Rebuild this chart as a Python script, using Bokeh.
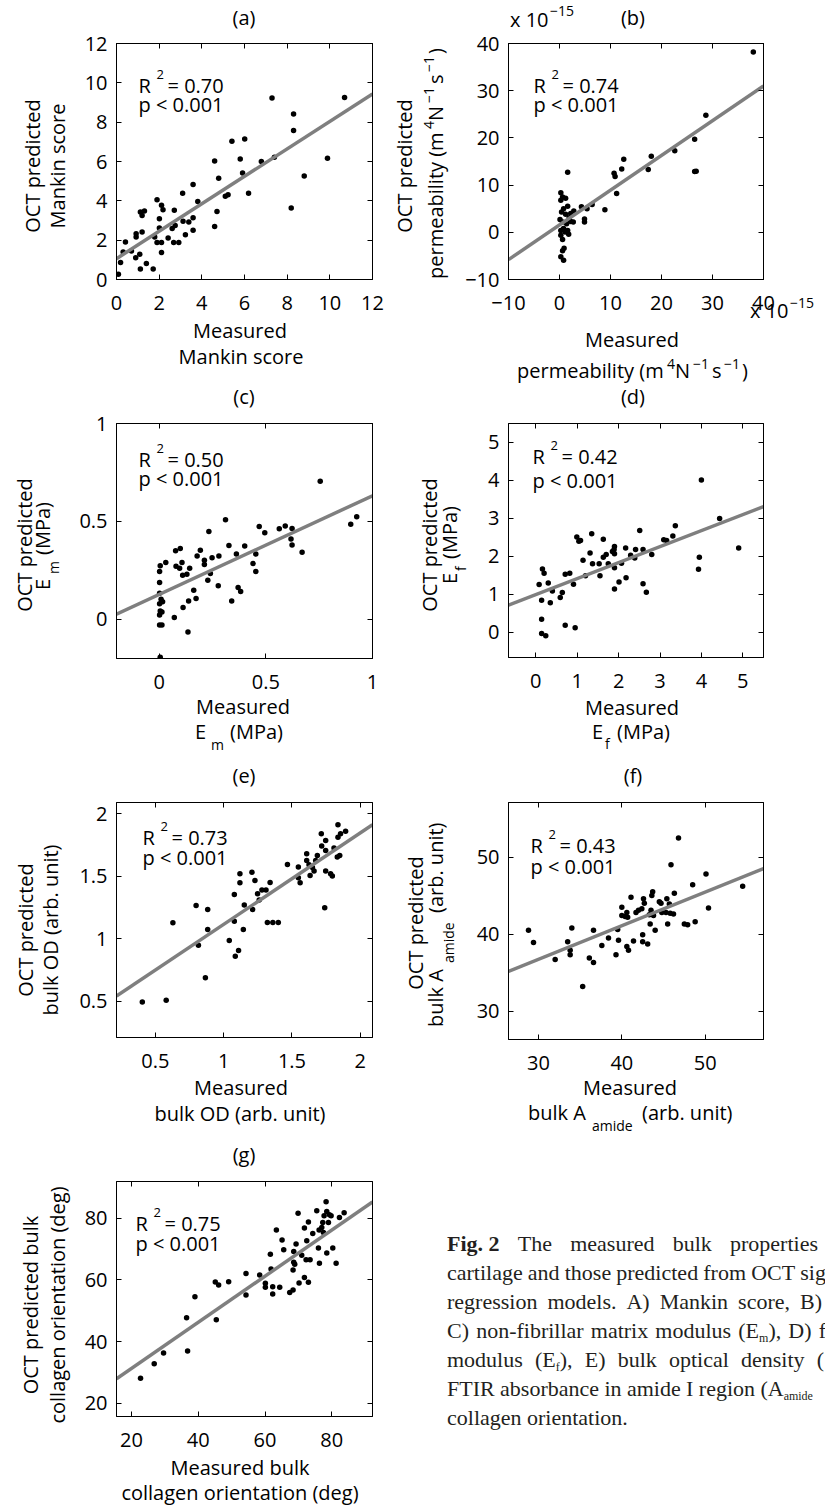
import math
from html import escape
from bokeh.plotting import figure
from bokeh.models import Label, LinearAxis, FixedTicker, Range1d, Div, CustomJSTickFormatter
from bokeh.layouts import column, row
from bokeh.embed import file_html
from bokeh.resources import INLINE

FONT = "Open Sans"
FS = 20
SUP = 13
SUP_OUT = 14

# ---------------- data ----------------
# (a) Mankin score
a_measured = [0.09, 0.19, 0.31, 0.42, 0.70, 0.92, 0.92, 0.90, 1.09, 1.12, 1.40, 1.72, 1.12, 1.31, 1.20,
              1.20, 1.90, 2.11, 2.18, 2.01, 2.01, 1.90, 2.11, 2.11, 1.79, 2.42, 2.61, 2.71, 2.75, 2.68,
              2.92, 3.10, 3.12, 3.23, 3.39, 3.59, 3.59, 3.59, 3.81, 4.60, 4.60, 4.71, 4.79, 5.10, 5.23,
              5.41, 5.80, 5.91, 6.01, 6.19, 6.79, 7.29, 7.40, 8.19, 8.30, 8.30, 8.80, 9.89, 10.69]
a_predicted = [0.27, 0.86, 1.40, 1.91, 1.45, 2.33, 2.16, 1.10, 1.28, 0.54, 0.81, 0.54, 3.43, 3.48, 3.26,
               2.42, 4.06, 3.77, 3.55, 3.09, 2.62, 1.88, 1.88, 1.37, 2.16, 2.11, 2.59, 3.52, 2.75, 1.88,
               1.88, 4.39, 2.96, 2.28, 2.92, 3.14, 2.50, 4.83, 3.97, 6.02, 2.70, 3.46, 5.15, 4.23, 4.31,
               7.03, 6.13, 5.42, 7.15, 4.39, 6.00, 9.23, 6.22, 3.63, 8.42, 7.57, 5.26, 6.17, 9.26]
a_fit_x = [0, 12]
a_fit_y = [1.06, 9.43]
a_xlim = [0, 12]
a_ylim = [0, 12]
a_ticks = [0, 2, 4, 6, 8, 10, 12]
a_tick_labels = ["0", "2", "4", "6", "8", "10", "12"]

# (b) permeability (x 1e-15)
b_measured = [38.0, 28.7, 26.5, 22.6, 18.0, 17.4, 26.5, 26.8, 12.6, 12.2, 10.7, 10.9, 11.2, 8.9, 6.4,
              5.4, 4.9, 4.9, 4.3, 2.8, 1.6, 0.26, 0.6, 1.2, 0.26, 0.8, 0.4, 1.6, 1.2, 1.9,
              0.1, 0.6, 1.4, 2.2, 0.8, 0.26, 1.1, 1.8, 0.26, 0.6, 0.9, 0.6, 0.26, 0.8, 2.2,
              1.6, 2.7]
b_predicted = [38.2, 24.8, 19.7, 17.3, 16.1, 13.3, 12.9, 12.95, 15.5, 13.4, 12.5, 11.8, 8.2, 4.8, 5.9,
               5.0, 2.8, 2.2, 5.4, 4.5, 12.7, 8.4, 7.5, 7.2, 6.8, 5.0, 4.3, 5.5, 3.8, 3.1,
               2.7, 2.2, 1.8, 2.3, 0.8, 0.4, 0.07, -0.4, -0.6, -1.5, -3.4, -3.9, -5.2, -5.9, 4.0,
               0.4, 2.2]
b_fit_x = [-10, 40]
b_fit_y = [-5.8, 31.0]
b_xlim = [-10, 40]
b_ylim = [-10, 40]
b_ticks = [-10, 0, 10, 20, 30, 40]
b_tick_labels = ["\u221210", "0", "10", "20", "30", "40"]

# (c) Em
c_measured = [0.755, 0.898, 0.926, 0.311, 0.233, 0.469, 0.495, 0.563, 0.591, 0.623, 0.618, 0.623, 0.670,
              0.327, 0.401, 0.362, 0.453, 0.440, 0.453, 0.280, 0.248, 0.212, 0.212, 0.193, 0.178, 0.099,
              0.077, 0.107, 0.079, 0.096, 0.031, 0.005, 0.002, 0.002, 0.002, 0.009, 0.016, 0.002, 0.005,
              0.013, 0.002, 0.002, 0.013, 0.005, 0.071, 0.112, 0.138, 0.135, 0.110, 0.143, 0.130, 0.162,
              0.173, 0.228, 0.240, 0.277, 0.340, 0.370, 0.382]
c_predicted = [0.705, 0.486, 0.524, 0.509, 0.449, 0.474, 0.442, 0.462, 0.476, 0.464, 0.410, 0.379, 0.343,
               0.377, 0.375, 0.333, 0.333, 0.285, 0.244, 0.323, 0.314, 0.302, 0.280, 0.353, 0.324, 0.362,
               0.350, 0.290, 0.271, 0.261, 0.290, 0.273, 0.244, 0.188, 0.133, 0.102, 0.090, 0.080, 0.043,
               0.038, 0.022, -0.029, -0.029, -0.193, 0.009, 0.060, 0.094, -0.065, 0.225, 0.261, 0.230, 0.148,
               0.106, 0.200, 0.234, 0.171, 0.094, 0.162, 0.142]
c_fit_x = [-0.2, 1.0]
c_fit_y = [0.026, 0.631]
c_xlim = [-0.2, 1.0]
c_ylim = [-0.2, 1.0]
c_ticks = [0, 0.5, 1]
c_tick_labels = ["0", "0.5", "1"]

# (d) Ef
d_measured = [4.00, 4.44, 4.90, 3.95, 3.93, 3.37, 3.31, 3.09, 3.16, 2.80, 2.51, 2.59, 2.41, 2.39, 2.29,
              2.17, 2.18, 2.01, 2.07, 1.90, 1.89, 1.90, 1.85, 1.75, 1.90, 1.90, 2.59, 2.67, 1.70, 1.63,
              1.63, 1.53, 1.55, 1.37, 1.35, 1.31, 1.20, 1.14, 0.99, 1.04, 1.08, 0.91, 0.82, 0.71, 0.64,
              0.59, 0.40, 0.30, 0.35, 0.08, 0.16, 0.20, 0.14, 0.14, 0.14, 0.24, 0.71, 0.95]
d_predicted = [4.01, 3.00, 2.22, 1.98, 1.66, 2.81, 2.54, 2.44, 2.42, 2.05, 2.68, 2.18, 2.18, 1.96, 2.03,
               2.22, 1.44, 1.33, 1.82, 2.26, 2.18, 2.07, 2.13, 1.81, 1.70, 1.14, 1.28, 1.06, 2.05, 1.98,
               2.45, 1.81, 1.49, 1.81, 2.60, 2.09, 1.49, 1.90, 2.51, 2.40, 2.42, 1.27, 1.56, 1.53, 1.05,
               0.92, 1.09, 1.30, 0.78, 1.26, 1.67, 1.56, 0.85, 0.35, -0.03, -0.09, 0.19, 0.12]
d_fit_x = [-0.66, 5.5]
d_fit_y = [0.72, 3.31]
d_xlim = [-0.66, 5.5]
d_ylim = [-0.66, 5.5]
d_ticks = [0, 1, 2, 3, 4, 5]
d_tick_labels = ["0", "1", "2", "3", "4", "5"]

# (e) bulk OD
e_measured = [0.404, 0.579, 0.628, 0.798, 0.815, 0.883, 0.883, 0.866, 1.041, 1.078, 1.085, 1.109, 1.119,
              1.119, 1.078, 1.151, 1.144, 1.207, 1.229, 1.212, 1.248, 1.280, 1.310, 1.340, 1.320, 1.360,
              1.400, 1.260, 1.467, 1.547, 1.547, 1.560, 1.608, 1.608, 1.625, 1.633, 1.662, 1.650, 1.686,
              1.715, 1.718, 1.747, 1.747, 1.747, 1.740, 1.783, 1.796, 1.808, 1.837, 1.837, 1.832, 1.850,
              1.856, 1.893, 1.674]
e_predicted = [0.495, 0.508, 1.129, 1.267, 0.948, 1.235, 1.075, 0.689, 0.987, 1.355, 0.860, 0.907, 1.520,
               1.448, 1.140, 1.270, 1.075, 1.533, 1.467, 1.235, 1.360, 1.390, 1.390, 1.450, 1.130, 1.130,
               1.130, 1.310, 1.595, 1.574, 1.488, 1.448, 1.680, 1.627, 1.593, 1.507, 1.542, 1.570, 1.667,
               1.840, 1.742, 1.787, 1.707, 1.542, 1.249, 1.520, 1.502, 1.726, 1.912, 1.813, 1.654, 1.667,
               1.840, 1.861, 1.627]
e_fit_x = [0.215, 2.09]
e_fit_y = [0.541, 1.912]
e_xlim = [0.215, 2.09]
e_ylim = [0.21, 2.09]
e_ticks = [0.5, 1, 1.5, 2]
e_tick_labels = ["0.5", "1", "1.5", "2"]

# (f) bulk A_amide
f_measured = [28.8, 29.4, 32.0, 33.5, 33.8, 33.8, 34.0, 35.3, 36.1, 36.6, 36.6, 37.6, 38.4, 39.3, 39.6,
              39.5, 40.0, 40.0, 40.4, 40.6, 40.7, 40.6, 40.8, 41.1, 41.4, 41.7, 42.0, 42.4, 42.5, 42.5,
              42.6, 42.7, 43.1, 43.3, 43.4, 43.5, 43.6, 43.7, 43.8, 44.0, 44.5, 44.7, 44.8, 45.3, 45.4,
              45.5, 45.7, 45.8, 45.9, 46.2, 46.3, 46.8, 47.5, 47.9, 48.5, 48.8, 50.1, 50.4, 54.5]
f_predicted = [40.5, 38.9, 36.7, 39.0, 37.9, 37.3, 40.8, 33.2, 36.9, 36.3, 40.5, 38.5, 39.5, 37.3, 39.2,
               40.6, 43.5, 42.4, 42.3, 42.8, 42.2, 38.4, 37.9, 44.8, 39.1, 42.8, 43.1, 43.3, 39.9, 39.0,
               44.6, 44.0, 38.7, 42.5, 41.3, 43.1, 45.0, 45.5, 42.4, 40.5, 44.2, 44.0, 42.8, 42.8, 44.6,
               41.3, 43.9, 42.7, 49.0, 42.6, 45.3, 52.5, 41.3, 41.2, 46.4, 41.6, 47.8, 43.4, 46.2]
f_fit_x = [26.4, 57.0]
f_fit_y = [35.15, 48.5]
f_xlim = [26.4, 57.0]
f_ylim = [26.3, 57.1]
f_ticks = [30, 40, 50]
f_tick_labels = ["30", "40", "50"]

# (g) bulk collagen orientation
g_measured = [22.7, 26.8, 29.6, 36.8, 36.5, 39.0, 45.4, 45.1, 46.1, 49.1, 54.3, 54.3, 58.4, 60.1, 60.1,
              61.6, 61.8, 62.3, 62.3, 64.4, 63.4, 65.1, 65.6, 67.4, 68.4, 68.4, 68.6, 68.6, 68.9, 69.3,
              69.9, 70.2, 71.0, 71.8, 71.8, 72.3, 72.5, 73.0, 73.0, 73.5, 74.3, 75.5, 76.0, 76.2, 76.3,
              77.0, 77.3, 77.7, 78.3, 78.5, 78.5, 79.0, 79.3, 79.8, 80.3, 81.3, 82.3, 83.7, 77.5]
g_predicted = [28.1, 32.8, 36.3, 36.9, 47.7, 54.5, 47.1, 59.3, 58.3, 59.4, 62.1, 55.1, 61.6, 58.9, 57.6,
               68.3, 63.5, 57.8, 55.4, 57.6, 76.2, 72.9, 69.8, 55.9, 56.7, 63.2, 69.2, 65.7, 65.1, 71.6,
               81.6, 59.0, 68.0, 76.8, 60.8, 66.5, 72.7, 78.8, 59.2, 66.5, 75.0, 82.4, 70.3, 76.2, 65.4,
               77.0, 78.6, 80.8, 85.3, 82.2, 68.7, 78.6, 81.1, 80.8, 70.3, 65.4, 80.2, 81.8, 75.4]
g_fit_x = [15.5, 92.2]
g_fit_y = [27.9, 85.3]
g_xlim = [15.5, 92.2]
g_ylim = [15.7, 91.9]
g_ticks = [20, 40, 60, 80]
g_tick_labels = ["20", "40", "60", "80"]

r2_values = ["0.70", "0.74", "0.50", "0.42", "0.73", "0.43", "0.75"]
p_text = "p < 0.001"
panel_tags = ["(a)", "(b)", "(c)", "(d)", "(e)", "(f)", "(g)"]

caption_lines = [
    ["<b>Fig.&nbsp;2</b>", "The", "measured", "bulk", "properties"],
    ["cartilage", "and", "those", "predicted", "from", "OCT", "sig"],
    ["regression", "models.", "A)", "Mankin", "score,", "B)"],
    ["C)", "non-fibrillar", "matrix", "modulus", "(E<sub>m</sub>),", "D)", "f"],
    ["modulus", "(E<sub>f</sub>),", "E)", "bulk", "optical", "density", "("],
    ["FTIR", "absorbance", "in", "amide", "I", "region", "(A<sub>amide</sub>"],
    ["collagen orientation."],
]


# ---------------- helpers ----------------
def make_panel(box, frame, xlim, ylim, xticks, xlabels, yticks, ylabels, xs, ys, fit_x, fit_y):
    bx, by, bw, bh = box
    fx, fy, fw, fh = frame
    p = figure(frame_width=fw, frame_height=fh,
               x_range=Range1d(xlim[0], xlim[1]), y_range=Range1d(ylim[0], ylim[1]),
               x_axis_location=None, y_axis_location=None,
               toolbar_location=None, output_backend="svg",
               min_border_left=fx - bx, min_border_right=bx + bw - fx - fw,
               min_border_top=fy - by, min_border_bottom=by + bh - fy - fh)
    p.grid.visible = False
    p.outline_line_color = "black"
    p.outline_line_width = 1
    p.background_fill_color = "white"
    p.border_fill_color = "white"
    for loc, ticks, labels, show in [("below", xticks, xlabels, True),
                                     ("left", yticks, ylabels, True),
                                     ("above", xticks, xlabels, False),
                                     ("right", yticks, ylabels, False)]:
        ax = LinearAxis(ticker=FixedTicker(ticks=ticks))
        ax.axis_line_color = "black"
        ax.axis_line_width = 1
        ax.major_tick_in = 5
        ax.major_tick_out = 0
        ax.major_tick_line_color = "black"
        ax.major_tick_line_width = 1
        ax.minor_tick_line_color = None
        if show:
            ax.formatter = CustomJSTickFormatter(
                args=dict(t=list(ticks), l=list(labels)),
                code="const i = t.findIndex(v => Math.abs(v - tick) < 1e-9); return i >= 0 ? l[i] : '';")
            ax.major_label_text_font = FONT
            ax.major_label_text_font_size = f"{FS}px"
            ax.major_label_text_color = "black"
            ax.major_label_standoff = 16 if loc == "below" else 9
        else:
            ax.formatter = CustomJSTickFormatter(code="return '';")
            ax.major_label_standoff = 0
        p.add_layout(ax, loc)
    p.scatter(xs, ys, size=5.5, fill_color="black", line_color=None)
    p.line(fit_x, fit_y, line_color="#7f7f7f", line_width=3.5)
    return p


def put(p, frame, xlim, ylim, X, Y, s, size=FS):
    """In-frame text (page pixel position converted through the panel's own scales)."""
    fx, fy, fw, fh = frame
    xd = xlim[0] + (X - fx) * (xlim[1] - xlim[0]) / fw
    yd = ylim[1] - (Y - fy) * (ylim[1] - ylim[0]) / fh
    p.add_layout(Label(x=xd, y=yd, text=s, text_font=FONT, text_font_size=f"{size}px",
                       text_align="left", text_baseline="alphabetic", text_color="black"))


def stats(p, frame, xlim, ylim, X, Yr, Yp, idx):
    put(p, frame, xlim, ylim, X, Yr, "R")
    put(p, frame, xlim, ylim, X + 18, Yr - 11, "2", SUP)
    put(p, frame, xlim, ylim, X + 29, Yr, "= " + r2_values[idx])
    put(p, frame, xlim, ylim, X, Yp, p_text)


# text outside the plot frames (page pixel coordinates)
outside = []


def out(X, Y, s, size=FS, anchor="start", rot=False):
    outside.append((X, Y, s, size, anchor, rot))


# ---------------- panels ----------------
# (a)
fr = (116, 43, 256, 236)
pa = make_panel((0, 0, 390, 380), fr, a_xlim, a_ylim, a_ticks, a_tick_labels, a_ticks, a_tick_labels,
                a_measured, a_predicted, a_fit_x, a_fit_y)
stats(pa, fr, a_xlim, a_ylim, 138, 85, 104, 0)
out(244, 25, panel_tags[0], anchor="middle")
out(40, 166, "OCT predicted", anchor="middle", rot=True)
out(65, 166, "Mankin score", anchor="middle", rot=True)
out(240, 338, "Measured", anchor="middle")
out(241, 364, "Mankin score", anchor="middle")

# (b)
fr = (508, 43, 255, 236)
pb = make_panel((390, 0, 435, 380), fr, b_xlim, b_ylim, b_ticks, b_tick_labels, b_ticks, b_tick_labels,
                b_measured, b_predicted, b_fit_x, b_fit_y)
stats(pb, fr, b_xlim, b_ylim, 533, 85, 104, 1)
out(633, 25, panel_tags[1], anchor="middle")
out(510, 27, "x 10")
out(550, 16, "\u221215", SUP_OUT)
out(412, 166, "OCT predicted", anchor="middle", rot=True)
perm_parts = [("permeability (m", 0, 0), ("4", 150, -9), ("N", 158, 0), ("\u22121", 176, -9),
              ("s", 195, 0), ("\u22121", 207, -9), (")", 225, 0)]
for s, off, dy in perm_parts:
    sz = SUP_OUT if dy else FS
    out(443 + dy, 279 - off, s, sz, rot=True)
    out(517 + off, 378 + dy, s, sz)
out(632, 347, "Measured", anchor="middle")
out(750, 318, "x 10")
out(790, 308, "\u221215", SUP_OUT)

# (c)
fr = (116, 423, 256, 235)
pc = make_panel((0, 380, 390, 380), fr, c_xlim, c_ylim, c_ticks, c_tick_labels, c_ticks, c_tick_labels,
                c_measured, c_predicted, c_fit_x, c_fit_y)
stats(pc, fr, c_xlim, c_ylim, 138, 459, 478, 2)
out(244, 404, panel_tags[2], anchor="middle")
out(32, 545, "OCT predicted", anchor="middle", rot=True)
out(50, 590, "E", rot=True)
out(59, 574, "m", SUP_OUT, rot=True)
out(50, 555, "(MPa)", rot=True)
out(243, 714, "Measured", anchor="middle")
out(195, 739, "E")
out(211, 750, "m", SUP_OUT)
out(230, 739, "(MPa)")

# (d)
fr = (508, 423, 255, 234)
pd_ = make_panel((390, 380, 435, 380), fr, d_xlim, d_ylim, d_ticks, d_tick_labels, d_ticks, d_tick_labels,
                 d_measured, d_predicted, d_fit_x, d_fit_y)
stats(pd_, fr, d_xlim, d_ylim, 532, 456, 480, 3)
out(633, 404, panel_tags[3], anchor="middle")
out(437, 545, "OCT predicted", anchor="middle", rot=True)
out(457, 584, "E", rot=True)
out(466, 571, "f", SUP_OUT, rot=True)
out(457, 559, "(MPa)", rot=True)
out(632, 715, "Measured", anchor="middle")
out(592, 739, "E")
out(605, 749, "f", SUP_OUT)
out(617, 739, "(MPa)")

# (e)
fr = (116, 802, 256, 235)
pe = make_panel((0, 760, 390, 380), fr, e_xlim, e_ylim, e_ticks, e_tick_labels, e_ticks, e_tick_labels,
                e_measured, e_predicted, e_fit_x, e_fit_y)
stats(pe, fr, e_xlim, e_ylim, 142, 837, 857, 4)
out(244, 783, panel_tags[4], anchor="middle")
out(33, 930, "OCT predicted", anchor="middle", rot=True)
out(58, 930, "bulk OD (arb. unit)", anchor="middle", rot=True)
out(241, 1095, "Measured", anchor="middle")
out(240, 1121, "bulk OD (arb. unit)", anchor="middle")

# (f)
fr = (508, 800, 255, 237)
pf = make_panel((390, 760, 435, 380), fr, f_xlim, f_ylim, f_ticks, f_tick_labels, f_ticks, f_tick_labels,
                f_measured, f_predicted, f_fit_x, f_fit_y)
stats(pf, fr, f_xlim, f_ylim, 530, 843, 864, 5)
out(633, 783, panel_tags[5], anchor="middle")
out(423, 923, "OCT predicted", anchor="middle", rot=True)
out(443, 1027, "bulk A", rot=True)
out(454, 963, "amide", SUP_OUT, rot=True)
out(443, 913, "(arb. unit)", rot=True)
out(630, 1095, "Measured", anchor="middle")
out(528, 1120, "bulk A")
out(592, 1131, "amide", SUP_OUT)
out(642, 1120, "(arb. unit)")

# (g)
fr = (116, 1181, 256, 235)
pg = make_panel((0, 1140, 390, 369), fr, g_xlim, g_ylim, g_ticks, g_tick_labels, g_ticks, g_tick_labels,
                g_measured, g_predicted, g_fit_x, g_fit_y)
stats(pg, fr, g_xlim, g_ylim, 135, 1223, 1243, 6)
out(244, 1162, panel_tags[6], anchor="middle")
out(38, 1305, "OCT predicted bulk", anchor="middle", rot=True)
out(65, 1305, "collagen orientation (deg)", anchor="middle", rot=True)
out(240, 1475, "Measured bulk", anchor="middle")
out(240, 1500, "collagen orientation (deg)", anchor="middle")

# ---------------- overlay (axis titles) + caption ----------------
DIV_X, DIV_Y = 390, 1140
TSTYLE = "font-family:'Open Sans',sans-serif;font-size:{}px;fill:#000;"
svg = [f'<svg xmlns="http://www.w3.org/2000/svg" width="825" height="1509" '
       f'style="position:absolute;left:{-DIV_X}px;top:{-DIV_Y}px;overflow:visible;pointer-events:none;z-index:5;">']
for X, Y, s, size, anchor, rot in outside:
    st = TSTYLE.format(size)
    if rot:
        svg.append(f'<text x="0" y="0" transform="translate({X},{Y}) rotate(-90)" text-anchor="{anchor}" '
                   f'style="{st}">{escape(s)}</text>')
    else:
        svg.append(f'<text x="{X}" y="{Y}" text-anchor="{anchor}" style="{st}">{escape(s)}</text>')
svg.append("</svg>")

cap_baselines = [1251, 1280, 1309, 1338, 1367, 1396, 1425]
cap_right = [818, 826, 822, 826, 824, 813, None]
cap = ['<div style="position:absolute;left:0;top:0;width:435px;height:369px;overflow:hidden;'
       'font-family:\'Liberation Serif\',serif;font-size:22px;line-height:22px;color:#231f20;">']
for words, base, right in zip(caption_lines, cap_baselines, cap_right):
    top = base - DIV_Y - 18.5
    inner = "".join(
        "<span>" + w.replace("<sub>", '<sub style="font-size:12px;line-height:0;vertical-align:-4px;">') + "</span>"
        for w in words)
    if right is None:
        cap.append(f'<div style="position:absolute;left:57px;top:{top}px;white-space:nowrap;">{inner}</div>')
    else:
        cap.append(f'<div style="position:absolute;left:57px;top:{top}px;width:{right - 447}px;display:flex;'
                   f'justify-content:space-between;white-space:nowrap;">{inner}</div>')
cap.append("</div>")

content = ('<div style="position:relative;width:435px;height:369px;overflow:visible;">'
           + "".join(cap) + "".join(svg) + "</div>")
overlay = Div(text=content, width=435, height=369, margin=0,
              styles={"overflow": "visible", "position": "relative", "z-index": "10"})

vis = {"overflow": "visible"}
layout = column(row(pa, pb, styles=vis), row(pc, pd_, styles=vis), row(pe, pf, styles=vis),
                row(pg, overlay, styles=vis), styles=vis)
open("out.html", "w").write(file_html(layout, INLINE))
